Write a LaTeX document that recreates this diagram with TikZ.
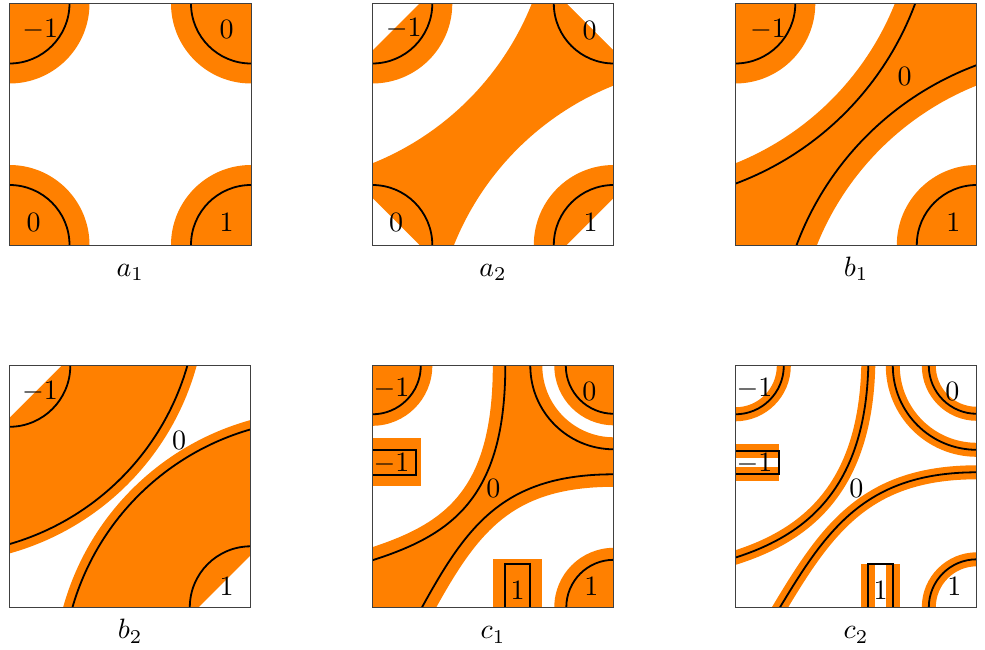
\documentclass[tikz,border=0pt]{standalone}
\definecolor{org}{RGB}{255,128,0}
\tikzset{
  curve/.style={line width=1.8pt, draw=black},
  frame/.style={line width=0.8pt, draw=black!75},
  lab/.style={inner sep=0pt, scale=2.8},
  captxt/.style={inner sep=0pt, anchor=base, scale=2.8},
}
\begin{document}
\begin{tikzpicture}[x=1pt,y=1pt]
\useasboundingbox (0,0) rectangle (985,649);

% ---------- a1 ----------
\begin{scope}[shift={(9.5,404)}]
 \begin{scope}
  \clip (0,0) rectangle (241.5,241.5);
  \fill[org] (0,0) circle (80pt) (0,241.5) circle (80pt) (241.5,241.5) circle (80pt) (241.5,0) circle (80pt);
  \draw[curve] (60,0) arc (0:90:60pt);
  \draw[curve] (0,181.5) arc (-90:0:60pt);
  \draw[curve] (181.5,241.5) arc (180:270:60pt);
  \draw[curve] (241.5,60) arc (90:180:60pt);
 \end{scope}
 \draw[frame] (0,0) rectangle (241.5,241.5);
 \node[lab] (a1tl) at (30.7,215.7) {$-1$};
 \node[lab] (a1tr) at (217,215.7) {$0$};
 \node[lab] (a1bl) at (24,22.3) {$0$};
 \node[lab] (a1br) at (217,22.3) {$1$};
 \node[captxt] (a1cap) at (120.75,-31.5) {$a_1$};
\end{scope}

% ---------- a2 ----------
\begin{scope}[shift={(372.3,404)}]
 \begin{scope}
  \clip (0,0) rectangle (241.5,241.5);
  \fill[org] (-27.8,52.4) arc (-75:-15:306pt) -- (270,270) -- (268.8,188.6) arc (105:165:306pt) -- (-20,-20) -- cycle;
  \draw[org, line width=38pt] (-27.8,52.4) arc (-75:-15:306pt);
  \draw[org, line width=38pt] (268.8,188.6) arc (105:165:306pt);
  \fill[org] (0,241.5) circle (80pt) (241.5,0) circle (80pt);
  \fill[white] (0,241.5) -- (47,241.5) -- (0,194.5) -- cycle;
  \fill[white] (241.5,241.5) -- (194.5,241.5) -- (241.5,194.5) -- cycle;
  \fill[white] (0,0) -- (47,0) -- (0,47) -- cycle;
  \fill[white] (241.5,0) -- (194.5,0) -- (241.5,47) -- cycle;
  \draw[curve] (60,0) arc (0:90:60pt);
  \draw[curve] (0,181.5) arc (-90:0:60pt);
  \draw[curve] (181.5,241.5) arc (180:270:60pt);
  \draw[curve] (241.5,60) arc (90:180:60pt);
 \end{scope}
 \draw[frame] (0,0) rectangle (241.5,241.5);
 \node[lab] (a2tl) at (31.4,216.7) {$-1$};
 \node[lab] (a2tr) at (217.4,215) {$0$};
 \node[lab] (a2bl) at (23.7,23) {$0$};
 \node[lab] (a2br) at (218.4,23) {$1$};
 \node[captxt] (a2cap) at (120.75,-31.5) {$a_2$};
\end{scope}

% ---------- b1 ----------
\begin{scope}[shift={(735.3,404)}]
 \begin{scope}
  \clip (0,0) rectangle (241.5,241.5);
  \fill[org] (-27.8,52.4) arc (-75:-15:306pt) -- (270,270) -- (268.8,188.6) arc (105:165:306pt) -- (-20,-20) -- cycle;
  \draw[org, line width=38pt] (-27.8,52.4) arc (-75:-15:306pt);
  \draw[org, line width=38pt] (268.8,188.6) arc (105:165:306pt);
  \fill[org] (0,241.5) circle (80pt) (241.5,0) circle (80pt);
  \draw[curve] (0,181.5) arc (-90:0:60pt);
  \draw[curve] (241.5,60) arc (90:180:60pt);
  \draw[curve] (-27.8,52.4) arc (-75:-15:306pt);
  \draw[curve] (268.8,188.6) arc (105:165:306pt);
 \end{scope}
 \draw[frame] (0,0) rectangle (241.5,241.5);
 \node[lab] (b1tl) at (32.7,215.7) {$-1$};
 \node[lab] (b1mid) at (169.3,168.3) {$0$};
 \node[lab] (b1br) at (218,22.3) {$1$};
 \node[captxt] (b1cap) at (120.75,-31.5) {$b_1$};
\end{scope}

% ---------- b2 ----------
\begin{scope}[shift={(9.3,41.7)}]
 \begin{scope}
  \clip (0,0) rectangle (241.5,241.5);
  \fill[org] (-26.85,56.95) arc (-80:-10:260pt) -- (-20,267.85) -- cycle;
  \fill[org] (267.85,184.05) arc (100:170:260pt) -- (267.85,-20) -- cycle;
  \draw[org, line width=18pt] (-26.85,56.95) arc (-80:-10:260pt);
  \draw[org, line width=18pt] (267.85,184.05) arc (100:170:260pt);
  \fill[white] (0,241.5) -- (52,241.5) -- (0,189.5) -- cycle;
  \fill[white] (241.5,0) -- (189.5,0) -- (241.5,52) -- cycle;
  \draw[curve] (0,180.5) arc (-90:0:61pt);
  \draw[curve] (241.5,61) arc (90:180:61pt);
  \draw[curve] (-26.85,56.95) arc (-80:-10:260pt);
  \draw[curve] (267.85,184.05) arc (100:170:260pt);
 \end{scope}
 \draw[frame] (0,0) rectangle (241.5,241.5);
 \node[lab] (b2tl) at (30.7,215.6) {$-1$};
 \node[lab] (b2mid) at (169.7,167.3) {$0$};
 \node[lab] (b2br) at (217.3,20.7) {$1$};
 \node[captxt] (b2cap) at (120.75,-31.5) {$b_2$};
\end{scope}

% ---------- c1 ----------
\begin{scope}[shift={(372.3,41.7)}]
 \begin{scope}
  \clip (0,0) rectangle (241.5,241.5);
  \fill[org] (-10,-10) -- (-10,43.8) -- (0,47) .. controls (78,72) and (133,108) .. (133,241.5) -- (133,260) -- (158,260) -- (158,241.5) arc (180:270:83.5pt) -- (260,158) -- (260,133) -- (241.5,133) .. controls (131.5,133) and (94.8,82) .. (49.7,0) -- (44.2,-10) -- cycle;
  \draw[org, line width=25pt] (-10,43.8) -- (0,47) .. controls (78,72) and (133,108) .. (133,241.5) -- (133,255);
  \draw[org, line width=25pt] (255,133) -- (241.5,133) .. controls (131.5,133) and (94.8,82) .. (49.7,0) -- (44.2,-10);
  \draw[org, line width=24pt] (158,255) -- (158,241.5) arc (180:270:83.5pt) -- (255,158);
  \fill[org] (241.5,241.5) circle (59.5pt);
  \fill[org] (0,241.5) circle (60pt);
  \fill[org] (241.5,0) circle (59.5pt);
  \fill[org] (-5,121) rectangle (48.8,169.5);
  \fill[org] (121,-5) rectangle (169.5,48.7);
  \draw[curve] (0,193) arc (-90:0:48.5pt);
  \draw[curve] (193.5,241.5) arc (180:270:48pt);
  \draw[curve] (158,241.5) arc (180:270:83.5pt);
  \draw[curve] (241.5,47.5) arc (90:180:47.5pt);
  \draw[curve] (-10,43.8) -- (0,47) .. controls (78,72) and (133,108) .. (133,241.5);
  \draw[curve] (241.5,133) .. controls (131.5,133) and (94.8,82) .. (49.7,0) -- (44.2,-10);
  \draw[curve] (-5,132) rectangle (44,157);
  \draw[curve] (133,-5) rectangle (157.5,43);
 \end{scope}
 \draw[frame] (0,0) rectangle (241.5,241.5);
 \node[lab] (c1tl) at (19.3,219) {$-1$};
 \node[lab] (c1rl) at (19.3,144) {$-1$};
 \node[lab] (c1tr) at (217,215.6) {$0$};
 \node[lab] (c1mid) at (121,119) {$0$};
 \node[lab] (c1rb) at (145.3,17.3) {$1$};
 \node[lab] (c1br) at (219,20.7) {$1$};
 \node[captxt] (c1cap) at (120.75,-31.5) {$c_1$};
\end{scope}

% ---------- c2 ----------
\begin{scope}[shift={(735.3,41.7)}]
 \begin{scope}
  \clip (0,0) rectangle (241.5,241.5);
  \draw[org, line width=14pt] (0,193) arc (-90:0:48.5pt);
  \draw[org, line width=14pt] (193.5,241.5) arc (180:270:48pt);
  \draw[org, line width=14pt] (157.5,255) -- (157.5,241.5) arc (180:270:84pt) -- (255,157.5);
  \draw[org, line width=14pt] (241.5,48) arc (90:180:48pt);
  \draw[org, line width=14pt] (-10,46.5) -- (0,49.7) .. controls (70,72) and (130,118) .. (133,241.5) -- (133.3,255);
  \draw[org, line width=14pt] (255,135) -- (241.5,135) .. controls (131.5,135) and (92,79) .. (44.7,0) -- (38.7,-10);
  \draw[org, line width=14pt] (-5,156.5) -- (44,156.5) (-5,133) -- (44,133);
  \draw[org, line width=14pt] (133,-5) -- (133,43) (157.5,-5) -- (157.5,43);
  \draw[curve] (0,193) arc (-90:0:48.5pt);
  \draw[curve] (193.5,241.5) arc (180:270:48pt);
  \draw[curve] (157.5,241.5) arc (180:270:84pt);
  \draw[curve] (241.5,48) arc (90:180:48pt);
  \draw[curve] (-10,46.5) -- (0,49.7) .. controls (70,72) and (130,118) .. (133,241.5) -- (133.3,255);
  \draw[curve] (241.5,135) .. controls (131.5,135) and (92,79) .. (44.7,0) -- (38.7,-10);
  \draw[curve] (-5,133) rectangle (44,156.5);
  \draw[curve] (133,-5) rectangle (157.5,43);
 \end{scope}
 \draw[frame] (0,0) rectangle (241.5,241.5);
 \node[lab] (c2tl) at (19.3,219) {$-1$};
 \node[lab] (c2rl) at (19.3,144) {$-1$};
 \node[lab] (c2tr) at (217,215.6) {$0$};
 \node[lab] (c2mid) at (121,119) {$0$};
 \node[lab] (c2rb) at (145.3,17.3) {$1$};
 \node[lab] (c2br) at (219,20.7) {$1$};
 \node[captxt] (c2cap) at (120.75,-31.5) {$c_2$};
\end{scope}
\end{tikzpicture}
\end{document}
